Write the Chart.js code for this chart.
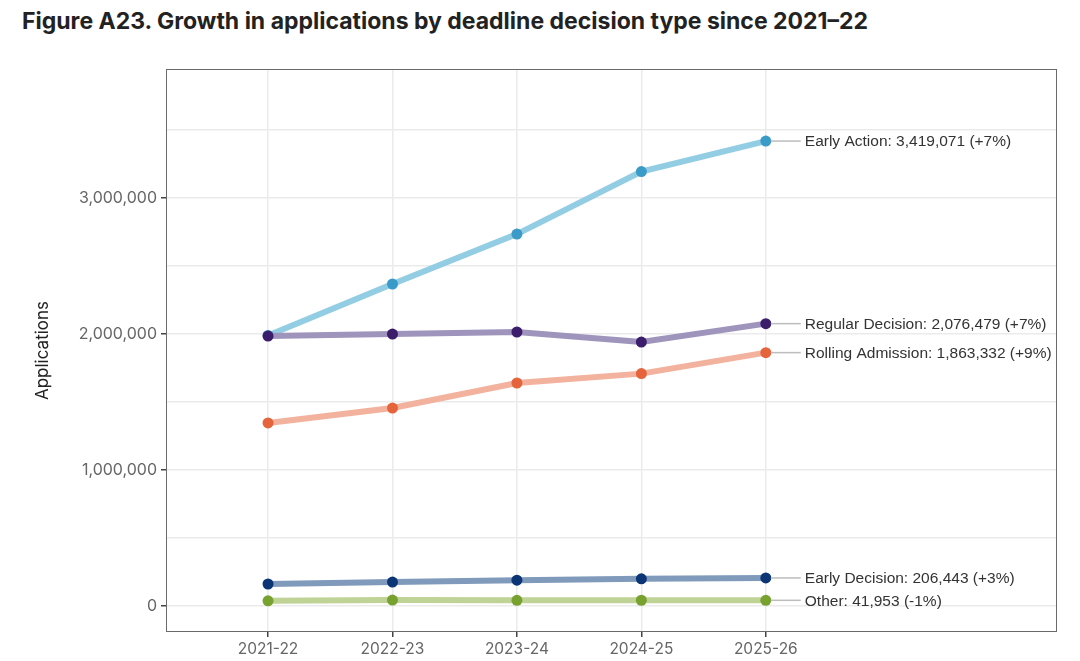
<!DOCTYPE html>
<html>
<head>
<meta charset="utf-8">
<script src="https://cdn.jsdelivr.net/npm/chart.js@4"></script>
<style>
  html, body { margin: 0; padding: 0; background: #ffffff; }
  #wrap { position: relative; width: 1080px; height: 661px; }
  #title { position: absolute; left: 22px; top: 7px; font-family: Inter, sans-serif; font-weight: 700; font-size: 23px; color: #222; white-space: nowrap; }
  canvas { position: absolute; left: 0; top: 0; }
</style>
</head>
<body>
<div id="wrap">
  <div id="title">Figure A23. Growth in applications by deadline decision type since 2021–22</div>
  <canvas id="c" width="1080" height="661"></canvas>
</div>
<script>
// ---- data ----
const years = ["2021-22", "2022-23", "2023-24", "2024-25", "2025-26"];
const seriesNames = ["Early Action", "Regular Decision", "Rolling Admission", "Early Decision", "Other"];
const earlyAction = [1990000, 2368000, 2735000, 3195000, 3419071];
const regularDecision = [1985000, 2000000, 2015000, 1941000, 2076479];
const rollingAdmission = [1346000, 1456000, 1640000, 1709000, 1863332];
const earlyDecision = [162000, 176000, 190000, 200400, 206443];
const other = [38000, 44000, 42000, 42400, 41953];
const changeLabels = ["+7%", "+7%", "+9%", "+3%", "-1%"];
const yTickValues = [0, 500000, 1000000, 1500000, 2000000, 2500000, 3000000, 3500000];

const seriesValues = [earlyAction, regularDecision, rollingAdmission, earlyDecision, other];
const lineColors = ["#93cde3", "#9f94bc", "#f2b29d", "#7f9aba", "#bfd397"];
const pointColors = ["#3b9bc8", "#3c1d6b", "#e6643b", "#0c3576", "#78a22f"];

const datasets = seriesNames.map((name, i) => ({
  label: name,
  data: seriesValues[i].map((v, j) => ({ x: j, y: v })),
  borderColor: lineColors[i],
  backgroundColor: pointColors[i],
  pointBackgroundColor: pointColors[i],
  pointBorderWidth: 0,
  pointRadius: 5.5,
  borderWidth: 6,
  tension: 0,
  order: i === 0 ? 1 : 0
}));

const fmt = v => v.toLocaleString('en-US');

const endLabels = {
  id: 'endLabels',
  afterDatasetsDraw(chart) {
    const ctx = chart.ctx;
    ctx.save();
    chart.data.datasets.forEach((ds, i) => {
      const meta = chart.getDatasetMeta(i);
      const pt = meta.data[meta.data.length - 1];
      const last = seriesValues[i][seriesValues[i].length - 1];
      ctx.strokeStyle = '#bdbdbd';
      ctx.lineWidth = 1.5;
      ctx.beginPath();
      ctx.moveTo(pt.x + 5, pt.y);
      ctx.lineTo(pt.x + 35, pt.y);
      ctx.stroke();
      ctx.fillStyle = '#333';
      ctx.font = '15.5px "Liberation Sans", Arial, sans-serif';
      ctx.textBaseline = 'middle';
      ctx.textAlign = 'left';
      ctx.fillText(seriesNames[i] + ': ' + fmt(last) + ' (' + changeLabels[i] + ')', pt.x + 39, pt.y + 1);
    });
    ctx.restore();
  }
};

const panelBorder = {
  id: 'panelBorder',
  beforeDatasetsDraw(chart) {
    const { ctx, chartArea: a } = chart;
    ctx.save();
    ctx.strokeStyle = '#6a6a6a';
    ctx.lineWidth = 1;
    ctx.strokeRect(a.left + 0.5, a.top + 0.5, a.right - a.left - 1, a.bottom - a.top - 1);
    ctx.restore();
  }
};

new Chart(document.getElementById('c'), {
  type: 'line',
  data: { datasets },
  plugins: [panelBorder, endLabels],
  options: {
    responsive: false,
    animation: false,
    layout: { padding: { left: 0, right: 23, top: 69, bottom: 0 } },
    plugins: { legend: { display: false }, tooltip: { enabled: false } },
    scales: {
      x: {
        type: 'linear',
        min: -0.82,
        max: 6.34,
        afterBuildTicks: s => { s.ticks = years.map((_, j) => ({ value: j })); },
        afterFit: s => { s.height = 29; },
        ticks: {
          callback: v => years[v] ?? '',
          color: '#666',
          font: { family: 'Inter', size: 15.5 },
          padding: 3,
          maxRotation: 0,
          autoSkip: false
        },
        grid: { color: '#ebebeb', lineWidth: 1.5, tickColor: '#444', tickLength: 5 },
        border: { display: false }
      },
      y: {
        type: 'linear',
        min: -191000,
        max: 3949000,
        afterBuildTicks: s => { s.ticks = yTickValues.map(v => ({ value: v })); },
        afterFit: s => { s.width = 166; },
        ticks: {
          callback: v => (v % 1000000 === 0 ? fmt(v) : ''),
          color: '#666',
          font: { family: 'Inter', size: 16 },
          padding: 4,
          autoSkip: false
        },
        grid: {
          color: '#ebebeb',
          lineWidth: 1.5,
          tickLength: 5,
          tickColor: c => (c.tick && c.tick.value % 1000000 === 0 ? '#444' : 'rgba(0,0,0,0)')
        },
        border: { display: false },
        title: {
          display: true,
          text: 'Applications',
          color: '#222',
          font: { family: 'Inter', size: 17 },
          padding: { top: 33, bottom: 0 }
        }
      }
    }
  }
});
</script>
</body>
</html>
